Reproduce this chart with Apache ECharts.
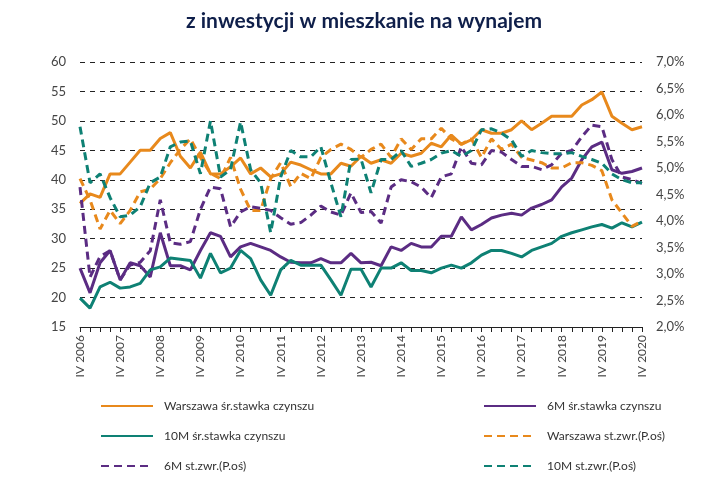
<!DOCTYPE html>
<html>
<head>
<meta charset="utf-8">
<script src="https://cdn.jsdelivr.net/npm/echarts@6/dist/echarts.min.js"></script>
<style>
  body { margin: 0; background: #fff; }
  #wykres { width: 728px; height: 480px; }
</style>
</head>
<body>
<div id="wykres"></div>
<script>
// kwartaly IV 2006 - IV 2020
var kwartaly = [];
var rzym = ['I', 'II', 'III', 'IV'];
kwartaly.push('IV 2006');
for (var r = 2007; r <= 2020; r++) {
    for (var q = 0; q < 4; q++) kwartaly.push(rzym[q] + ' ' + r);
}

// srednie stawki czynszu (lewa os)
var warszawaCzynsz = [36,37.6,37,41,41,43,45,45,47,48, 44,42,44.7,41,41,42.2,43.7,41,42,40.5,
    41,43,42.5,41.7,41,41,42.8,42.3,44,42.8, 43.4,42.8,44.5,44,44.5,46.2,45.6,47.6,46,46.8,
    48.5,47.9,47.9,48.5,50,48.5,49.6,50.8,50.8,50.8, 52.7,53.6,54.9,50.8,49.6,48.5,49];
var m6Czynsz = [25,20.8,25.9,28,23,25.9,25.4,23.5,31,25.4, 25.4,24.7,28,31,30.4,26.9,28.6,29.2,28.6,28,
    26.9,26,25.9,25.9,26.6,25.9,25.9,27.5,25.9,26, 25.4,28.6,28,29.2,28.6,28.6,30.4,30.4,33.7,31.5,
    32.4,33.5,34,34.3,34,35.2,35.8,36.6,38.8,40.3, 43.4,45.6,46.4,41.7,41.1,41.4,42];
var m10Czynsz = [19.9,18.2,21.8,22.6,21.6,21.8,22.4,24.7,25.2,26.7, 26.5,26.3,23.3,27.5,24.2,25,28,26.6,23,20.4,
    24.7,26.3,25.5,25.5,25.5,23,20.4,24.8,24.8,21.8, 25,25,25.9,24.6,24.6,24.2,25,25.5,25,25.9,
    27.2,28,28,27.5,26.9,28,28.6,29.2,30.4,31, 31.5,32,32.4,31.8,32.7,32,32.8];

// stopy zwrotu w % (prawa os)
var warszawaZwrot = [4.8,4.4,3.85,4.2,3.95,4.2,4.55,4.6,4.8,5.1, 5.35,5.55,5.2,4.9,4.8,5.2,4.6,4.2,4.2,4.8,
    5.1,4.65,4.9,4.8,5.2,5.35,5.45,5.35,5.2,5.35, 5.45,5.2,5.55,5.35,5.55,5.55,5.75,5.55,5.45,5.55,
    5.2,5.55,5.35,5.45,5.2,5.15,5.1,5.0,5.0,5.1, 5.1,5.05,4.95,4.4,4.15,3.9,4.0];
var m6Zwrot = [4.64,2.94,3.33,3.44,2.89,3.17,3.22,3.44,4.4,3.59, 3.56,3.61,4.22,4.64,4.61,3.89,4.17,4.27,4.24,4.2,
    4.06,3.94,3.97,4.11,4.28,4.17,4.11,4.53,4.16,4.18, 3.96,4.64,4.78,4.74,4.64,4.44,4.83,4.89,5.4,5.09,
    5.06,5.33,5.3,5.16,5.03,5.03,4.97,5.06,5.28,5.33, 5.59,5.81,5.78,5.16,4.83,4.78,4.71];
var m10Zwrot = [5.78,4.72,4.89,4.44,4.08,4.11,4.27,4.72,4.83,5.4, 5.49,5.51,4.89,5.89,4.83,4.97,5.87,4.97,4.72,3.78,
    4.83,5.33,5.21,5.21,5.4,4.72,4.08,5.16,5.17,4.53, 5.16,5.16,5.33,5.03,5.09,5.16,5.28,5.33,5.22,5.33,
    5.72,5.74,5.66,5.53,5.22,5.33,5.29,5.27,5.27,5.29, 5.22,5.16,5.09,4.89,4.78,4.72,4.72];

var pomarancz = '#E8891C';
var fiolet = '#5B2C83';
var zielen = '#0E8174';

var grafico = echarts.init(document.getElementById('wykres'));

function seria(nazwa, dane, kolor, przerywana, os) {
    return {
        name: nazwa,
        type: 'line',
        yAxisIndex: os,
        data: dane,
        symbol: 'none',
        lineStyle: { color: kolor, width: 3, type: przerywana ? [8, 5] : 'solid' },
        itemStyle: { color: kolor }
    };
}

function legenda(nazwy, x, y) {
    return {
        data: nazwy, left: x, top: y, orient: 'vertical', itemGap: 18,
        itemWidth: 52, itemHeight: 10,
        itemStyle: { opacity: 0 },
        textStyle: { fontFamily: 'Lato', fontSize: 12, color: '#333', padding: [0, 0, 0, 6] }
    };
}

var osY = {
    type: 'value', min: 15, max: 60, interval: 5,
    axisLine: { show: false }, axisTick: { show: false },
    axisLabel: { color: '#444', fontSize: 13, fontFamily: 'Lato', margin: 14 },
    splitLine: { lineStyle: { color: '#222', type: [5, 5] } }
};

var option = {
    animation: false,
    title: {
        text: 'z inwestycji w mieszkanie na wynajem',
        left: 'center', top: 6,
        textStyle: { fontFamily: 'Lato', fontSize: 21, fontWeight: 'bold', color: '#0f1f4a' }
    },
    grid: { left: 80, right: 86, top: 62, bottom: 153 },
    legend: [
        legenda(['Warszawa śr.stawka czynszu', '10M śr.stawka czynszu', '6M st.zwr.(P.oś)'], 95, 395),
        legenda(['6M śr.stawka czynszu', 'Warszawa st.zwr.(P.oś)', '10M st.zwr.(P.oś)'], 478, 395)
    ],
    xAxis: {
        type: 'category', data: kwartaly, boundaryGap: false,
        axisLine: { lineStyle: { color: '#222' } },
        axisTick: { interval: 0, lineStyle: { color: '#222' }, length: 5 },
        axisLabel: { interval: 3, rotate: 90, color: '#444', fontSize: 12, fontFamily: 'Lato' }
    },
    yAxis: [
        osY,
        {
            type: 'value', min: 2, max: 7, interval: 0.5,
            axisLine: { show: false }, axisTick: { show: false }, splitLine: { show: false },
            axisLabel: {
                color: '#444', fontSize: 13, fontFamily: 'Lato', margin: 14,
                formatter: function (v) { return v.toFixed(1).replace('.', ',') + '%'; }
            }
        }
    ],
    series: [
        seria('Warszawa śr.stawka czynszu', warszawaCzynsz, pomarancz, false, 0),
        seria('6M śr.stawka czynszu', m6Czynsz, fiolet, false, 0),
        seria('10M śr.stawka czynszu', m10Czynsz, zielen, false, 0),
        seria('Warszawa st.zwr.(P.oś)', warszawaZwrot, pomarancz, true, 1),
        seria('6M st.zwr.(P.oś)', m6Zwrot, fiolet, true, 1),
        seria('10M st.zwr.(P.oś)', m10Zwrot, zielen, true, 1)
    ]
};

option && grafico.setOption(option, true);
</script>
</body>
</html>
